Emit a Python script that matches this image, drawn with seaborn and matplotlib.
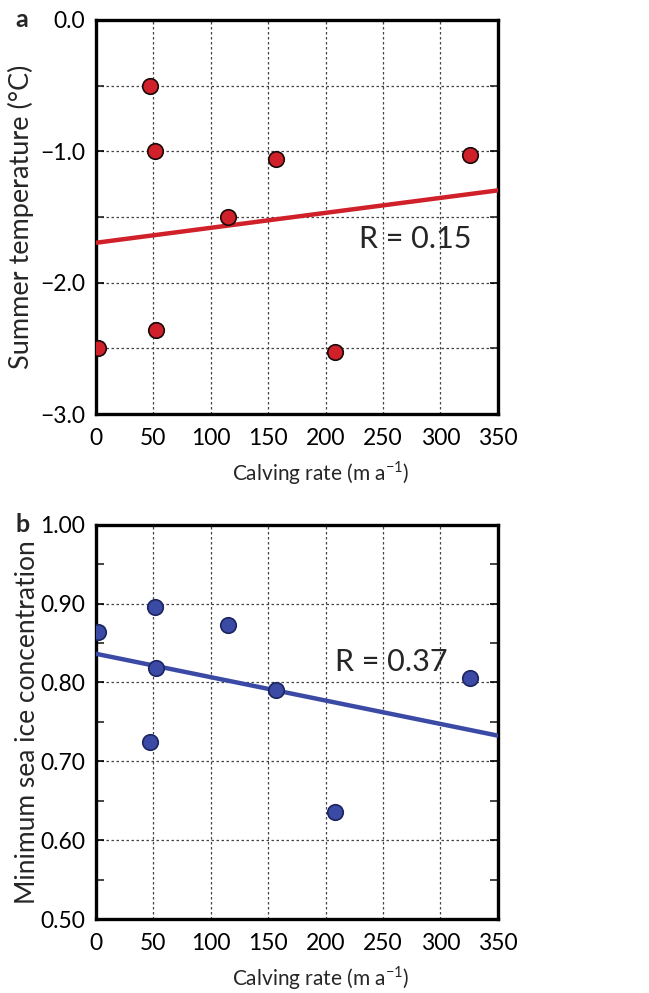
import matplotlib
matplotlib.use("Agg")
import matplotlib.pyplot as plt
import numpy as np
import pandas as pd
import seaborn as sns
from matplotlib.ticker import MultipleLocator, FuncFormatter

# calving rate (m a-1) for the eight glaciers
calving = [2, 47, 51, 52, 115, 157, 208, 326]
# summer temperature (deg C)
summer_temp = [-2.50, -0.50, -1.00, -2.36, -1.50, -1.06, -2.53, -1.03]
# minimum sea ice concentration
sea_ice = [0.864, 0.724, 0.896, 0.818, 0.873, 0.790, 0.636, 0.806]

r_top = "R = 0.15"
r_bottom = "R = 0.37"

sns.set_style("white")
plt.rcParams['font.family'] = ['Lato', 'DejaVu Sans']
plt.rcParams['mathtext.fontset'] = 'custom'
plt.rcParams['mathtext.rm'] = 'Lato'

fig = plt.figure(figsize=(6.49, 9.93), dpi=100)
axTop = fig.add_axes([0.148, 0.583, 0.619, 0.397])
axBot = fig.add_axes([0.148, 0.0745, 0.619, 0.397])

red = '#d0202a'
blue = '#3a4aa5'
gridcol = '#444444'


def panel(ax, y, colour, edge, ylab, ylsize, ylim, major, minor, fmt, rtext, rpos, letter):
    ax.set_xlim(0, 350)
    ax.set_ylim(*ylim)
    df = pd.DataFrame({'x': calving, 'y': y})
    sns.regplot(data=df, x='x', y='y', ax=ax, ci=None, truncate=False,
                scatter_kws=dict(s=125, color=colour, edgecolor=edge, linewidths=1.2, alpha=1, zorder=4),
                line_kws=dict(color=colour, lw=3.2, zorder=3))
    ax.set_xlim(0, 350)
    ax.set_ylim(*ylim)
    ax.xaxis.set_major_locator(MultipleLocator(50))
    ax.yaxis.set_major_locator(MultipleLocator(major))
    ax.yaxis.set_minor_locator(MultipleLocator(minor))
    ax.yaxis.set_major_formatter(FuncFormatter(lambda v, p: (fmt % v).replace('-', '\u2212')))
    ax.grid(True, which='major', axis='both', color=gridcol, linestyle=(0, (2, 2)), lw=0.9)
    ax.tick_params(axis='both', which='major', direction='in', length=6, width=1.2,
                   labelsize=16.5, right=True, left=True, pad=8, colors='black')
    ax.tick_params(axis='y', which='minor', direction='in', length=6, width=1.2, right=True, left=True)
    ax.tick_params(axis='x', which='major', length=0, pad=10)
    for s in ax.spines.values():
        s.set_linewidth(2.4)
        s.set_color('black')
    ax.set_xlabel(r'Calving rate (m a$^{-1}$)', fontsize=15)
    ax.xaxis.set_label_coords(0.56, -0.115)
    ax.set_ylabel(ylab, fontsize=ylsize)
    ax.text(rpos[0], rpos[1], rtext, fontsize=22, ha='left', va='center', zorder=5)
    ax.text(-0.2, 1.0, letter, transform=ax.transAxes, fontsize=18, fontweight='bold',
            ha='left', va='center')


panel(axTop, summer_temp, red, '#1a0a0a', 'Summer temperature (\u00b0C)', 19.5, (-3.0, 0.0),
      1.0, 0.5, '%.1f', r_top, (229, -1.67), 'a')
panel(axBot, sea_ice, blue, '#1c2560', 'Minimum sea ice concentration', 19, (0.50, 1.00),
      0.1, 0.05, '%.2f', r_bottom, (208, 0.826), 'b')

# top panel has grid lines at every 0.5 step as well
axTop.grid(True, which='minor', axis='y', color=gridcol, linestyle=(0, (2, 2)), lw=0.9)
axTop.yaxis.set_label_coords(-0.155, 0.5)
axBot.yaxis.set_label_coords(-0.14, 0.5)

fig.savefig('out.png', dpi=100)
